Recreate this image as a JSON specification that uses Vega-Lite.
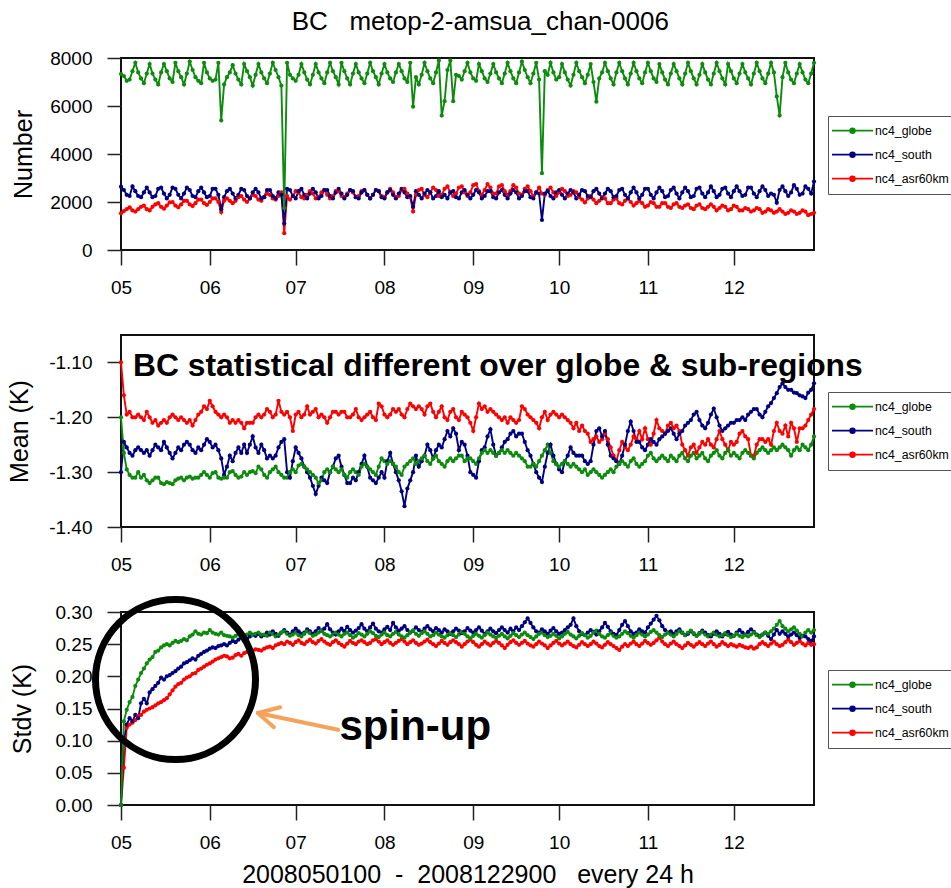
{
"$schema":"https://vega.github.io/schema/vega-lite/v6.json",
"background":"white",
"autosize":{"type":"pad"},
"padding":{"left":6,"top":8,"right":0,"bottom":0},
"bounds":"flush",
"spacing":85,
"title":{"text":"BC\u00a0\u00a0\u00a0metop-2-amsua_chan-0006","fontSize":26,"fontWeight":"normal","color":"#000000","anchor":"middle","offset":13.5},
"resolve":{"scale":{"color":"independent"},"legend":{"color":"independent"}},
"config":{
"font":"Liberation Sans",
"view":{"stroke":"#111111","strokeWidth":2},
"axis":{"domain":false,"grid":false,"ticks":true,"tickColor":"#222222","tickWidth":1.5,"tickSize":14,"labelFontSize":19,"labelColor":"#000000","labelFlush":false,"labelOverlap":false,"titleFontSize":25,"titleFontWeight":"normal","titleColor":"#000000"},
"axisX":{"tickSize":15,"labelPadding":13,"titlePadding":10},
"axisY":{"labelPadding":15},
"legend":{"strokeColor":"#555555","fillColor":"#ffffff","padding":3,"labelFontSize":12.3,"labelColor":"#000000","labelOffset":1,"symbolType":"M-1,0H1M-0.12,0A0.12,0.12,0,1,1,0.12,0A0.12,0.12,0,1,1,-0.12,0Z","symbolSize":1681,"symbolStrokeWidth":1.6,"clipHeight":23.3,"rowPadding":0}
},
"datasets":{
"num":[
{"t":0,"g":7330,"s":2640,"a":1530},{"t":1,"g":7250,"s":2500,"a":1620},{"t":2,"g":7050,"s":2300,"a":1700},{"t":3,"g":7100,"s":2250,"a":1780},{"t":4,"g":7450,"s":2650,"a":1650},
{"t":5,"g":7800,"s":2450,"a":1600},{"t":6,"g":7400,"s":2250,"a":1700},{"t":7,"g":7150,"s":2200,"a":1800},{"t":8,"g":6950,"s":2400,"a":1850},{"t":9,"g":7350,"s":2600,"a":1700},
{"t":10,"g":7750,"s":2400,"a":1650},{"t":11,"g":7350,"s":2200,"a":1800},{"t":12,"g":7100,"s":2250,"a":1900},{"t":13,"g":6900,"s":2550,"a":1950},{"t":14,"g":7400,"s":2600,"a":1800},
{"t":15,"g":7750,"s":2350,"a":1720},{"t":16,"g":7450,"s":2150,"a":1850},{"t":17,"g":7150,"s":2300,"a":1980},{"t":18,"g":7000,"s":2600,"a":2000},{"t":19,"g":7800,"s":2550,"a":1850},
{"t":20,"g":7450,"s":2300,"a":1780},{"t":21,"g":7200,"s":2150,"a":1900},{"t":22,"g":6900,"s":2350,"a":2050},{"t":23,"g":7350,"s":2600,"a":2050},{"t":24,"g":7850,"s":2500,"a":1900},
{"t":25,"g":7500,"s":2250,"a":1830},{"t":26,"g":7200,"s":2200,"a":1950},{"t":27,"g":7050,"s":2450,"a":2100},{"t":28,"g":6950,"s":2600,"a":2100},{"t":29,"g":7800,"s":2400,"a":1950},
{"t":30,"g":7400,"s":2200,"a":1880},{"t":31,"g":7150,"s":2250,"a":2000},{"t":32,"g":7050,"s":2550,"a":2150},{"t":33,"g":7100,"s":2550,"a":2150},{"t":34,"g":7800,"s":2300,"a":2000},
{"t":35,"g":5400,"s":1700,"a":1580},{"t":36,"g":6900,"s":2200,"a":2050},{"t":37,"g":7200,"s":2450,"a":2150},{"t":38,"g":7400,"s":2550,"a":2050},{"t":39,"g":7700,"s":2350,"a":1950},
{"t":40,"g":7350,"s":2150,"a":2050},{"t":41,"g":7100,"s":2300,"a":2200},{"t":42,"g":6900,"s":2550,"a":2250},{"t":43,"g":7750,"s":2500,"a":2100},{"t":44,"g":7450,"s":2250,"a":2000},
{"t":45,"g":7200,"s":2150,"a":2150},{"t":46,"g":6850,"s":2400,"a":2300},{"t":47,"g":7300,"s":2550,"a":2250},{"t":48,"g":7750,"s":2400,"a":2100},{"t":49,"g":7400,"s":2150,"a":2050},
{"t":50,"g":7150,"s":2200,"a":2200},{"t":51,"g":6950,"s":2500,"a":2350},{"t":52,"g":7350,"s":2500,"a":2300},{"t":53,"g":7800,"s":2250,"a":2150},{"t":54,"g":7500,"s":2150,"a":2100},
{"t":55,"g":7200,"s":2400,"a":2250},{"t":56,"g":6850,"s":2300,"a":2400},{"t":57,"g":1750,"s":1100,"a":700},{"t":58,"g":7800,"s":2550,"a":2250},{"t":59,"g":7300,"s":2500,"a":2100},
{"t":60,"g":7150,"s":2250,"a":2250},{"t":61,"g":7050,"s":2150,"a":2450},{"t":62,"g":7300,"s":2450,"a":2400},{"t":63,"g":7750,"s":2550,"a":2200},{"t":64,"g":7400,"s":2300,"a":2150},
{"t":65,"g":7100,"s":2150,"a":2300},{"t":66,"g":6900,"s":2350,"a":2450},{"t":67,"g":7300,"s":2550,"a":2350},{"t":68,"g":7750,"s":2400,"a":2150},{"t":69,"g":7400,"s":2150,"a":2200},
{"t":70,"g":7150,"s":2250,"a":2400},{"t":71,"g":6950,"s":2500,"a":2500},{"t":72,"g":7400,"s":2500,"a":2300},{"t":73,"g":7800,"s":2250,"a":2150},{"t":74,"g":7450,"s":2150,"a":2250},
{"t":75,"g":7200,"s":2400,"a":2450},{"t":76,"g":6900,"s":2550,"a":2450},{"t":77,"g":7800,"s":2350,"a":2250},{"t":78,"g":7450,"s":2150,"a":2200},{"t":79,"g":7150,"s":2300,"a":2350},
{"t":80,"g":6900,"s":2500,"a":2500},{"t":81,"g":7350,"s":2450,"a":2400},{"t":82,"g":7750,"s":2200,"a":2200},{"t":83,"g":7400,"s":2150,"a":2250},{"t":84,"g":7150,"s":2400,"a":2450},
{"t":85,"g":6950,"s":2500,"a":2500},{"t":86,"g":7350,"s":2300,"a":2300},{"t":87,"g":7800,"s":2150,"a":2150},{"t":88,"g":7450,"s":2300,"a":2300},{"t":89,"g":7200,"s":2500,"a":2500},
{"t":90,"g":6900,"s":2450,"a":2450},{"t":91,"g":7350,"s":2200,"a":2250},{"t":92,"g":7750,"s":2150,"a":2200},{"t":93,"g":7400,"s":2400,"a":2400},{"t":94,"g":7150,"s":2500,"a":2550},
{"t":95,"g":7000,"s":2300,"a":2400},{"t":96,"g":7400,"s":2150,"a":2200},{"t":97,"g":7750,"s":2350,"a":2250},{"t":98,"g":7450,"s":2550,"a":2500},{"t":99,"g":7150,"s":2400,"a":2550},
{"t":100,"g":7000,"s":2200,"a":2350},{"t":101,"g":7800,"s":2250,"a":2200},{"t":102,"g":5970,"s":1800,"a":1600},{"t":103,"g":7200,"s":2450,"a":2300},{"t":104,"g":6900,"s":2300,"a":2500},
{"t":105,"g":7300,"s":2150,"a":2550},{"t":106,"g":7800,"s":2350,"a":2300},{"t":107,"g":7450,"s":2500,"a":2200},{"t":108,"g":7150,"s":2400,"a":2400},{"t":109,"g":6950,"s":2150,"a":2600},
{"t":110,"g":7400,"s":2250,"a":2500},{"t":111,"g":7900,"s":2450,"a":2250},{"t":112,"g":5600,"s":2200,"a":2300},{"t":113,"g":6200,"s":2300,"a":2550},{"t":114,"g":7500,"s":2150,"a":2650},
{"t":115,"g":7900,"s":2400,"a":2400},{"t":116,"g":6200,"s":2450,"a":2250},{"t":117,"g":7300,"s":2200,"a":2350},{"t":118,"g":7250,"s":2150,"a":2600},{"t":119,"g":7100,"s":2400,"a":2650},
{"t":120,"g":7450,"s":2500,"a":2400},{"t":121,"g":7800,"s":2300,"a":2250},{"t":122,"g":7400,"s":2150,"a":2400},{"t":123,"g":7150,"s":2300,"a":2700},{"t":124,"g":7050,"s":2500,"a":2750},
{"t":125,"g":7750,"s":2400,"a":2450},{"t":126,"g":7450,"s":2150,"a":2300},{"t":127,"g":7150,"s":2250,"a":2500},{"t":128,"g":7000,"s":2450,"a":2750},{"t":129,"g":7350,"s":2450,"a":2600},
{"t":130,"g":7750,"s":2200,"a":2350},{"t":131,"g":7400,"s":2150,"a":2350},{"t":132,"g":7150,"s":2400,"a":2650},{"t":133,"g":6950,"s":2500,"a":2700},{"t":134,"g":7350,"s":2300,"a":2450},
{"t":135,"g":7800,"s":2150,"a":2300},{"t":136,"g":7450,"s":2350,"a":2450},{"t":137,"g":7150,"s":2500,"a":2700},{"t":138,"g":6950,"s":2400,"a":2600},{"t":139,"g":7400,"s":2150,"a":2350},
{"t":140,"g":7850,"s":2250,"a":2300},{"t":141,"g":7500,"s":2450,"a":2550},{"t":142,"g":7200,"s":2450,"a":2650},{"t":143,"g":6950,"s":2200,"a":2450},{"t":144,"g":7350,"s":2150,"a":2250},
{"t":145,"g":7800,"s":2400,"a":2400},{"t":146,"g":7100,"s":2350,"a":2600},{"t":147,"g":3200,"s":1250,"a":2350},{"t":148,"g":7450,"s":2350,"a":2300},{"t":149,"g":7300,"s":2450,"a":2500},
{"t":150,"g":7800,"s":2250,"a":2600},{"t":151,"g":7400,"s":2150,"a":2400},{"t":152,"g":7100,"s":2400,"a":2250},{"t":153,"g":7200,"s":2500,"a":2400},{"t":154,"g":7750,"s":2300,"a":2550},
{"t":155,"g":7400,"s":2150,"a":2450},{"t":156,"g":7100,"s":2350,"a":2250},{"t":157,"g":6850,"s":2500,"a":2300},{"t":158,"g":7300,"s":2400,"a":2450},{"t":159,"g":7800,"s":2150,"a":2400},
{"t":160,"g":7450,"s":2300,"a":2200},{"t":161,"g":7200,"s":2500,"a":2100},{"t":162,"g":6950,"s":2450,"a":1980},{"t":163,"g":7300,"s":2250,"a":2150},{"t":164,"g":7750,"s":2200,"a":2250},
{"t":165,"g":7000,"s":2450,"a":2100},{"t":166,"g":6180,"s":2550,"a":1950},{"t":167,"g":7150,"s":2350,"a":2050},{"t":168,"g":7400,"s":2150,"a":2200},{"t":169,"g":7800,"s":2350,"a":2150},
{"t":170,"g":7450,"s":2550,"a":1950},{"t":171,"g":7150,"s":2450,"a":1950},{"t":172,"g":6900,"s":2200,"a":2100},{"t":173,"g":7400,"s":2250,"a":2150},{"t":174,"g":7800,"s":2500,"a":1950},
{"t":175,"g":7450,"s":2550,"a":1900},{"t":176,"g":7150,"s":2300,"a":2050},{"t":177,"g":6900,"s":2150,"a":2150},{"t":178,"g":7350,"s":2400,"a":2000},{"t":179,"g":7800,"s":2600,"a":1850},
{"t":180,"g":7450,"s":2400,"a":1950},{"t":181,"g":7150,"s":2150,"a":2050},{"t":182,"g":6950,"s":2300,"a":1950},{"t":183,"g":7400,"s":2550,"a":1800},{"t":184,"g":7800,"s":2550,"a":1850},
{"t":185,"g":7450,"s":2300,"a":2000},{"t":186,"g":7150,"s":2150,"a":1950},{"t":187,"g":7000,"s":2400,"a":1800},{"t":188,"g":7750,"s":2600,"a":1800},{"t":189,"g":7400,"s":2450,"a":1950},
{"t":190,"g":7100,"s":2200,"a":1950},{"t":191,"g":6900,"s":2250,"a":1800},{"t":192,"g":7350,"s":2500,"a":1750},{"t":193,"g":7750,"s":2600,"a":1900},{"t":194,"g":7450,"s":2350,"a":1950},
{"t":195,"g":7150,"s":2150,"a":1800},{"t":196,"g":6900,"s":2400,"a":1750},{"t":197,"g":7350,"s":2600,"a":1850},{"t":198,"g":7800,"s":2450,"a":1900},{"t":199,"g":7450,"s":2200,"a":1750},
{"t":200,"g":7150,"s":2250,"a":1700},{"t":201,"g":6900,"s":2550,"a":1850},{"t":202,"g":7300,"s":2600,"a":1900},{"t":203,"g":7750,"s":2350,"a":1750},{"t":204,"g":7400,"s":2200,"a":1700},
{"t":205,"g":7100,"s":2400,"a":1800},{"t":206,"g":6900,"s":2650,"a":1900},{"t":207,"g":7350,"s":2450,"a":1800},{"t":208,"g":7800,"s":2200,"a":1650},{"t":209,"g":7450,"s":2300,"a":1750},
{"t":210,"g":7150,"s":2550,"a":1850},{"t":211,"g":6900,"s":2600,"a":1800},{"t":212,"g":7750,"s":2350,"a":1650},{"t":213,"g":7450,"s":2200,"a":1700},{"t":214,"g":7150,"s":2450,"a":1850},
{"t":215,"g":6950,"s":2650,"a":1800},{"t":216,"g":7350,"s":2450,"a":1650},{"t":217,"g":7750,"s":2250,"a":1650},{"t":218,"g":7400,"s":2300,"a":1750},{"t":219,"g":7150,"s":2600,"a":1700},
{"t":220,"g":6900,"s":2600,"a":1600},{"t":221,"g":7350,"s":2350,"a":1650},{"t":222,"g":7800,"s":2200,"a":1750},{"t":223,"g":7450,"s":2450,"a":1700},{"t":224,"g":7150,"s":2650,"a":1550},
{"t":225,"g":6950,"s":2500,"a":1600},{"t":226,"g":7350,"s":2250,"a":1700},{"t":227,"g":7800,"s":2350,"a":1650},{"t":228,"g":7400,"s":2300,"a":1550},{"t":229,"g":6400,"s":1970,"a":1600},
{"t":230,"g":5600,"s":2500,"a":1700},{"t":231,"g":7200,"s":2650,"a":1600},{"t":232,"g":7800,"s":2450,"a":1500},{"t":233,"g":7400,"s":2250,"a":1550},{"t":234,"g":7100,"s":2400,"a":1650},
{"t":235,"g":6950,"s":2700,"a":1600},{"t":236,"g":7350,"s":2550,"a":1500},{"t":237,"g":7750,"s":2300,"a":1550},{"t":238,"g":7400,"s":2350,"a":1650},{"t":239,"g":7100,"s":2650,"a":1600},
{"t":240,"g":6950,"s":2550,"a":1450},{"t":241,"g":7350,"s":2350,"a":1500},{"t":242,"g":7800,"s":2850,"a":1550}
],
"mean":[
{"t":0,"g":-1.2,"s":-1.3,"a":-1.1},{"t":1,"g":-1.265,"s":-1.245,"a":-1.16},{"t":2,"g":-1.295,"s":-1.255,"a":-1.195},{"t":3,"g":-1.305,"s":-1.265,"a":-1.19},{"t":4,"g":-1.31,"s":-1.27,"a":-1.2},
{"t":5,"g":-1.31,"s":-1.26,"a":-1.2},{"t":6,"g":-1.3,"s":-1.255,"a":-1.195},{"t":7,"g":-1.31,"s":-1.26,"a":-1.2},{"t":8,"g":-1.305,"s":-1.265,"a":-1.205},{"t":9,"g":-1.315,"s":-1.26,"a":-1.19},
{"t":10,"g":-1.32,"s":-1.27,"a":-1.2},{"t":11,"g":-1.315,"s":-1.26,"a":-1.21},{"t":12,"g":-1.31,"s":-1.25,"a":-1.205},{"t":13,"g":-1.31,"s":-1.255,"a":-1.215},{"t":14,"g":-1.32,"s":-1.26,"a":-1.21},
{"t":15,"g":-1.322,"s":-1.245,"a":-1.205},{"t":16,"g":-1.318,"s":-1.255,"a":-1.21},{"t":17,"g":-1.32,"s":-1.265,"a":-1.2},{"t":18,"g":-1.322,"s":-1.275,"a":-1.195},{"t":19,"g":-1.315,"s":-1.265,"a":-1.2},
{"t":20,"g":-1.312,"s":-1.255,"a":-1.205},{"t":21,"g":-1.31,"s":-1.26,"a":-1.2},{"t":22,"g":-1.315,"s":-1.25,"a":-1.205},{"t":23,"g":-1.31,"s":-1.245,"a":-1.21},{"t":24,"g":-1.308,"s":-1.25,"a":-1.205},
{"t":25,"g":-1.312,"s":-1.26,"a":-1.215},{"t":26,"g":-1.31,"s":-1.265,"a":-1.205},{"t":27,"g":-1.31,"s":-1.255,"a":-1.195},{"t":28,"g":-1.305,"s":-1.26,"a":-1.19},{"t":29,"g":-1.3,"s":-1.25,"a":-1.18},
{"t":30,"g":-1.305,"s":-1.24,"a":-1.185},{"t":31,"g":-1.31,"s":-1.245,"a":-1.17},{"t":32,"g":-1.302,"s":-1.255,"a":-1.18},{"t":33,"g":-1.3,"s":-1.25,"a":-1.19},{"t":34,"g":-1.31,"s":-1.26,"a":-1.195},
{"t":35,"g":-1.312,"s":-1.275,"a":-1.2},{"t":36,"g":-1.31,"s":-1.305,"a":-1.195},{"t":37,"g":-1.31,"s":-1.29,"a":-1.2},{"t":38,"g":-1.3,"s":-1.27,"a":-1.21},{"t":39,"g":-1.298,"s":-1.28,"a":-1.205},
{"t":40,"g":-1.305,"s":-1.265,"a":-1.21},{"t":41,"g":-1.31,"s":-1.255,"a":-1.205},{"t":42,"g":-1.308,"s":-1.265,"a":-1.21},{"t":43,"g":-1.3,"s":-1.25,"a":-1.22},{"t":44,"g":-1.305,"s":-1.265,"a":-1.21},
{"t":45,"g":-1.3,"s":-1.25,"a":-1.21},{"t":46,"g":-1.298,"s":-1.235,"a":-1.21},{"t":47,"g":-1.302,"s":-1.255,"a":-1.2},{"t":48,"g":-1.29,"s":-1.265,"a":-1.195},{"t":49,"g":-1.295,"s":-1.25,"a":-1.2},
{"t":50,"g":-1.305,"s":-1.26,"a":-1.195},{"t":51,"g":-1.31,"s":-1.275,"a":-1.185},{"t":52,"g":-1.3,"s":-1.27,"a":-1.19},{"t":53,"g":-1.295,"s":-1.275,"a":-1.2},{"t":54,"g":-1.29,"s":-1.27,"a":-1.195},
{"t":55,"g":-1.3,"s":-1.255,"a":-1.17},{"t":56,"g":-1.305,"s":-1.245,"a":-1.19},{"t":57,"g":-1.31,"s":-1.24,"a":-1.195},{"t":58,"g":-1.31,"s":-1.3,"a":-1.19},{"t":59,"g":-1.3,"s":-1.31,"a":-1.2},
{"t":60,"g":-1.295,"s":-1.28,"a":-1.225},{"t":61,"g":-1.3,"s":-1.255,"a":-1.195},{"t":62,"g":-1.288,"s":-1.265,"a":-1.19},{"t":63,"g":-1.285,"s":-1.275,"a":-1.2},{"t":64,"g":-1.29,"s":-1.29,"a":-1.195},
{"t":65,"g":-1.295,"s":-1.3,"a":-1.18},{"t":66,"g":-1.3,"s":-1.31,"a":-1.195},{"t":67,"g":-1.305,"s":-1.325,"a":-1.19},{"t":68,"g":-1.31,"s":-1.34,"a":-1.185},{"t":69,"g":-1.32,"s":-1.325,"a":-1.2},
{"t":70,"g":-1.315,"s":-1.31,"a":-1.195},{"t":71,"g":-1.3,"s":-1.315,"a":-1.2},{"t":72,"g":-1.295,"s":-1.32,"a":-1.21},{"t":73,"g":-1.3,"s":-1.3,"a":-1.2},{"t":74,"g":-1.29,"s":-1.29,"a":-1.19},
{"t":75,"g":-1.295,"s":-1.275,"a":-1.19},{"t":76,"g":-1.3,"s":-1.27,"a":-1.195},{"t":77,"g":-1.295,"s":-1.29,"a":-1.19},{"t":78,"g":-1.305,"s":-1.305,"a":-1.19},{"t":79,"g":-1.31,"s":-1.32,"a":-1.2},
{"t":80,"g":-1.3,"s":-1.32,"a":-1.2},{"t":81,"g":-1.295,"s":-1.31,"a":-1.195},{"t":82,"g":-1.3,"s":-1.315,"a":-1.185},{"t":83,"g":-1.305,"s":-1.3,"a":-1.2},{"t":84,"g":-1.29,"s":-1.285,"a":-1.205},
{"t":85,"g":-1.285,"s":-1.27,"a":-1.2},{"t":86,"g":-1.29,"s":-1.29,"a":-1.195},{"t":87,"g":-1.295,"s":-1.31,"a":-1.19},{"t":88,"g":-1.3,"s":-1.315,"a":-1.2},{"t":89,"g":-1.305,"s":-1.32,"a":-1.205},
{"t":90,"g":-1.29,"s":-1.31,"a":-1.175},{"t":91,"g":-1.275,"s":-1.3,"a":-1.18},{"t":92,"g":-1.28,"s":-1.31,"a":-1.195},{"t":93,"g":-1.285,"s":-1.28,"a":-1.2},{"t":94,"g":-1.28,"s":-1.265,"a":-1.195},
{"t":95,"g":-1.285,"s":-1.285,"a":-1.185},{"t":96,"g":-1.29,"s":-1.3,"a":-1.19},{"t":97,"g":-1.3,"s":-1.315,"a":-1.185},{"t":98,"g":-1.305,"s":-1.335,"a":-1.195},{"t":99,"g":-1.29,"s":-1.362,"a":-1.2},
{"t":100,"g":-1.285,"s":-1.33,"a":-1.185},{"t":101,"g":-1.28,"s":-1.315,"a":-1.175},{"t":102,"g":-1.275,"s":-1.3,"a":-1.18},{"t":103,"g":-1.285,"s":-1.27,"a":-1.185},{"t":104,"g":-1.28,"s":-1.29,"a":-1.18},
{"t":105,"g":-1.275,"s":-1.28,"a":-1.185},{"t":106,"g":-1.27,"s":-1.27,"a":-1.195},{"t":107,"g":-1.28,"s":-1.25,"a":-1.18},{"t":108,"g":-1.285,"s":-1.26,"a":-1.175},{"t":109,"g":-1.275,"s":-1.275,"a":-1.19},
{"t":110,"g":-1.27,"s":-1.26,"a":-1.2},{"t":111,"g":-1.28,"s":-1.25,"a":-1.19},{"t":112,"g":-1.285,"s":-1.255,"a":-1.18},{"t":113,"g":-1.29,"s":-1.24,"a":-1.2},{"t":114,"g":-1.28,"s":-1.225,"a":-1.205},
{"t":115,"g":-1.275,"s":-1.235,"a":-1.19},{"t":116,"g":-1.28,"s":-1.22,"a":-1.185},{"t":117,"g":-1.275,"s":-1.23,"a":-1.2},{"t":118,"g":-1.27,"s":-1.26,"a":-1.205},{"t":119,"g":-1.27,"s":-1.245,"a":-1.19},
{"t":120,"g":-1.28,"s":-1.25,"a":-1.195},{"t":121,"g":-1.275,"s":-1.27,"a":-1.2},{"t":122,"g":-1.275,"s":-1.3,"a":-1.21},{"t":123,"g":-1.28,"s":-1.305,"a":-1.225},{"t":124,"g":-1.285,"s":-1.31,"a":-1.2},
{"t":125,"g":-1.275,"s":-1.28,"a":-1.175},{"t":126,"g":-1.265,"s":-1.26,"a":-1.185},{"t":127,"g":-1.26,"s":-1.255,"a":-1.18},{"t":128,"g":-1.265,"s":-1.235,"a":-1.19},{"t":129,"g":-1.26,"s":-1.222,"a":-1.185},
{"t":130,"g":-1.265,"s":-1.25,"a":-1.19},{"t":131,"g":-1.27,"s":-1.27,"a":-1.195},{"t":132,"g":-1.265,"s":-1.265,"a":-1.2},{"t":133,"g":-1.26,"s":-1.255,"a":-1.205},{"t":134,"g":-1.265,"s":-1.245,"a":-1.2},
{"t":135,"g":-1.26,"s":-1.24,"a":-1.21},{"t":136,"g":-1.265,"s":-1.23,"a":-1.2},{"t":137,"g":-1.27,"s":-1.225,"a":-1.205},{"t":138,"g":-1.265,"s":-1.235,"a":-1.21},{"t":139,"g":-1.27,"s":-1.23,"a":-1.205},
{"t":140,"g":-1.275,"s":-1.23,"a":-1.18},{"t":141,"g":-1.28,"s":-1.245,"a":-1.185},{"t":142,"g":-1.29,"s":-1.26,"a":-1.195},{"t":143,"g":-1.29,"s":-1.27,"a":-1.2},{"t":144,"g":-1.285,"s":-1.285,"a":-1.205},
{"t":145,"g":-1.29,"s":-1.3,"a":-1.21},{"t":146,"g":-1.28,"s":-1.31,"a":-1.22},{"t":147,"g":-1.27,"s":-1.318,"a":-1.2},{"t":148,"g":-1.26,"s":-1.29,"a":-1.19},{"t":149,"g":-1.25,"s":-1.265,"a":-1.205},
{"t":150,"g":-1.265,"s":-1.25,"a":-1.195},{"t":151,"g":-1.28,"s":-1.27,"a":-1.19},{"t":152,"g":-1.285,"s":-1.285,"a":-1.195},{"t":153,"g":-1.29,"s":-1.295,"a":-1.2},{"t":154,"g":-1.285,"s":-1.3,"a":-1.195},
{"t":155,"g":-1.28,"s":-1.28,"a":-1.2},{"t":156,"g":-1.285,"s":-1.27,"a":-1.205},{"t":157,"g":-1.29,"s":-1.255,"a":-1.21},{"t":158,"g":-1.285,"s":-1.265,"a":-1.22},{"t":159,"g":-1.29,"s":-1.27,"a":-1.21},
{"t":160,"g":-1.295,"s":-1.27,"a":-1.225},{"t":161,"g":-1.3,"s":-1.27,"a":-1.215},{"t":162,"g":-1.295,"s":-1.28,"a":-1.225},{"t":163,"g":-1.305,"s":-1.285,"a":-1.23},{"t":164,"g":-1.3,"s":-1.28,"a":-1.245},
{"t":165,"g":-1.295,"s":-1.25,"a":-1.24},{"t":166,"g":-1.3,"s":-1.225,"a":-1.235},{"t":167,"g":-1.305,"s":-1.22,"a":-1.245},{"t":168,"g":-1.31,"s":-1.235,"a":-1.24},{"t":169,"g":-1.305,"s":-1.225,"a":-1.23},
{"t":170,"g":-1.3,"s":-1.25,"a":-1.24},{"t":171,"g":-1.295,"s":-1.27,"a":-1.255},{"t":172,"g":-1.3,"s":-1.275,"a":-1.27},{"t":173,"g":-1.29,"s":-1.28,"a":-1.28},{"t":174,"g":-1.285,"s":-1.285,"a":-1.26},
{"t":175,"g":-1.28,"s":-1.27,"a":-1.245},{"t":176,"g":-1.285,"s":-1.25,"a":-1.255},{"t":177,"g":-1.29,"s":-1.225,"a":-1.26},{"t":178,"g":-1.28,"s":-1.208,"a":-1.25},{"t":179,"g":-1.275,"s":-1.225,"a":-1.235},
{"t":180,"g":-1.285,"s":-1.245,"a":-1.24},{"t":181,"g":-1.29,"s":-1.245,"a":-1.225},{"t":182,"g":-1.285,"s":-1.255,"a":-1.24},{"t":183,"g":-1.28,"s":-1.26,"a":-1.22},{"t":184,"g":-1.27,"s":-1.25,"a":-1.24},
{"t":185,"g":-1.265,"s":-1.24,"a":-1.25},{"t":186,"g":-1.275,"s":-1.245,"a":-1.23},{"t":187,"g":-1.28,"s":-1.25,"a":-1.205},{"t":188,"g":-1.275,"s":-1.24,"a":-1.22},{"t":189,"g":-1.27,"s":-1.235,"a":-1.225},
{"t":190,"g":-1.275,"s":-1.23,"a":-1.23},{"t":191,"g":-1.28,"s":-1.225,"a":-1.215},{"t":192,"g":-1.27,"s":-1.22,"a":-1.21},{"t":193,"g":-1.275,"s":-1.23,"a":-1.22},{"t":194,"g":-1.28,"s":-1.24,"a":-1.215},
{"t":195,"g":-1.27,"s":-1.23,"a":-1.225},{"t":196,"g":-1.265,"s":-1.225,"a":-1.25},{"t":197,"g":-1.275,"s":-1.215,"a":-1.26},{"t":198,"g":-1.28,"s":-1.21,"a":-1.27},{"t":199,"g":-1.27,"s":-1.205,"a":-1.255},
{"t":200,"g":-1.265,"s":-1.195,"a":-1.25},{"t":201,"g":-1.275,"s":-1.19,"a":-1.265},{"t":202,"g":-1.27,"s":-1.205,"a":-1.255},{"t":203,"g":-1.265,"s":-1.215,"a":-1.245},{"t":204,"g":-1.275,"s":-1.22,"a":-1.25},
{"t":205,"g":-1.28,"s":-1.21,"a":-1.24},{"t":206,"g":-1.27,"s":-1.195,"a":-1.25},{"t":207,"g":-1.265,"s":-1.184,"a":-1.255},{"t":208,"g":-1.26,"s":-1.2,"a":-1.24},{"t":209,"g":-1.27,"s":-1.215,"a":-1.225},
{"t":210,"g":-1.275,"s":-1.225,"a":-1.24},{"t":211,"g":-1.265,"s":-1.22,"a":-1.25},{"t":212,"g":-1.26,"s":-1.215,"a":-1.26},{"t":213,"g":-1.27,"s":-1.21,"a":-1.245},{"t":214,"g":-1.265,"s":-1.21,"a":-1.25},
{"t":215,"g":-1.27,"s":-1.205,"a":-1.245},{"t":216,"g":-1.275,"s":-1.205,"a":-1.23},{"t":217,"g":-1.265,"s":-1.2,"a":-1.225},{"t":218,"g":-1.26,"s":-1.205,"a":-1.235},{"t":219,"g":-1.265,"s":-1.195,"a":-1.24},
{"t":220,"g":-1.27,"s":-1.19,"a":-1.27},{"t":221,"g":-1.275,"s":-1.185,"a":-1.27},{"t":222,"g":-1.265,"s":-1.185,"a":-1.25},{"t":223,"g":-1.26,"s":-1.195,"a":-1.24},{"t":224,"g":-1.255,"s":-1.2,"a":-1.24},
{"t":225,"g":-1.26,"s":-1.19,"a":-1.245},{"t":226,"g":-1.265,"s":-1.18,"a":-1.24},{"t":227,"g":-1.26,"s":-1.174,"a":-1.25},{"t":228,"g":-1.255,"s":-1.165,"a":-1.225},{"t":229,"g":-1.26,"s":-1.156,"a":-1.21},
{"t":230,"g":-1.255,"s":-1.145,"a":-1.225},{"t":231,"g":-1.25,"s":-1.138,"a":-1.23},{"t":232,"g":-1.255,"s":-1.145,"a":-1.215},{"t":233,"g":-1.26,"s":-1.15,"a":-1.235},{"t":234,"g":-1.27,"s":-1.15,"a":-1.21},
{"t":235,"g":-1.26,"s":-1.155,"a":-1.22},{"t":236,"g":-1.255,"s":-1.156,"a":-1.245},{"t":237,"g":-1.26,"s":-1.16,"a":-1.22},{"t":238,"g":-1.25,"s":-1.162,"a":-1.22},{"t":239,"g":-1.255,"s":-1.165,"a":-1.215},
{"t":240,"g":-1.26,"s":-1.155,"a":-1.205},{"t":241,"g":-1.25,"s":-1.15,"a":-1.195},{"t":242,"g":-1.235,"s":-1.138,"a":-1.185}
],
"std":[
{"t":0,"g":0,"s":0,"a":0},{"t":1,"g":0.13,"s":0.1,"a":0.058},{"t":2,"g":0.148,"s":0.125,"a":0.12},{"t":3,"g":0.16,"s":0.135,"a":0.125},{"t":4,"g":0.168,"s":0.13,"a":0.128},
{"t":5,"g":0.185,"s":0.14,"a":0.132},{"t":6,"g":0.195,"s":0.135,"a":0.138},{"t":7,"g":0.205,"s":0.158,"a":0.14},{"t":8,"g":0.212,"s":0.165,"a":0.145},{"t":9,"g":0.22,"s":0.158,"a":0.148},
{"t":10,"g":0.226,"s":0.175,"a":0.15},{"t":11,"g":0.23,"s":0.18,"a":0.152},{"t":12,"g":0.238,"s":0.185,"a":0.155},{"t":13,"g":0.24,"s":0.19,"a":0.158},{"t":14,"g":0.245,"s":0.198,"a":0.16},
{"t":15,"g":0.248,"s":0.195,"a":0.163},{"t":16,"g":0.25,"s":0.2,"a":0.166},{"t":17,"g":0.248,"s":0.202,"a":0.172},{"t":18,"g":0.252,"s":0.205,"a":0.178},{"t":19,"g":0.255,"s":0.208,"a":0.184},
{"t":20,"g":0.253,"s":0.212,"a":0.188},{"t":21,"g":0.255,"s":0.215,"a":0.19},{"t":22,"g":0.258,"s":0.22,"a":0.195},{"t":23,"g":0.256,"s":0.222,"a":0.198},{"t":24,"g":0.262,"s":0.225,"a":0.2},
{"t":25,"g":0.265,"s":0.228,"a":0.204},{"t":26,"g":0.27,"s":0.226,"a":0.205},{"t":27,"g":0.266,"s":0.232,"a":0.21},{"t":28,"g":0.265,"s":0.235,"a":0.212},{"t":29,"g":0.268,"s":0.238,"a":0.215},
{"t":30,"g":0.267,"s":0.24,"a":0.218},{"t":31,"g":0.272,"s":0.243,"a":0.22},{"t":32,"g":0.268,"s":0.245,"a":0.223},{"t":33,"g":0.266,"s":0.244,"a":0.226},{"t":34,"g":0.265,"s":0.247,"a":0.228},
{"t":35,"g":0.268,"s":0.248,"a":0.23},{"t":36,"g":0.264,"s":0.25,"a":0.232},{"t":37,"g":0.263,"s":0.248,"a":0.231},{"t":38,"g":0.262,"s":0.252,"a":0.228},{"t":39,"g":0.26,"s":0.255,"a":0.229},
{"t":40,"g":0.263,"s":0.253,"a":0.233},{"t":41,"g":0.265,"s":0.257,"a":0.235},{"t":42,"g":0.262,"s":0.26,"a":0.232},{"t":43,"g":0.26,"s":0.262,"a":0.236},{"t":44,"g":0.265,"s":0.258,"a":0.238},
{"t":45,"g":0.268,"s":0.262,"a":0.236},{"t":46,"g":0.264,"s":0.265,"a":0.24},{"t":47,"g":0.266,"s":0.263,"a":0.242},{"t":48,"g":0.268,"s":0.266,"a":0.241},{"t":49,"g":0.265,"s":0.262,"a":0.24},
{"t":50,"g":0.265,"s":0.264,"a":0.243},{"t":51,"g":0.263,"s":0.268,"a":0.245},{"t":52,"g":0.268,"s":0.265,"a":0.246},{"t":53,"g":0.266,"s":0.27,"a":0.244},{"t":54,"g":0.262,"s":0.266,"a":0.248},
{"t":55,"g":0.265,"s":0.263,"a":0.25},{"t":56,"g":0.268,"s":0.268,"a":0.252},{"t":57,"g":0.27,"s":0.272,"a":0.25},{"t":58,"g":0.266,"s":0.268,"a":0.254},{"t":59,"g":0.263,"s":0.265,"a":0.252},
{"t":60,"g":0.265,"s":0.27,"a":0.249},{"t":61,"g":0.268,"s":0.274,"a":0.253},{"t":62,"g":0.264,"s":0.27,"a":0.256},{"t":63,"g":0.262,"s":0.266,"a":0.252},{"t":64,"g":0.266,"s":0.268,"a":0.25},
{"t":65,"g":0.27,"s":0.273,"a":0.254},{"t":66,"g":0.267,"s":0.27,"a":0.257},{"t":67,"g":0.263,"s":0.266,"a":0.253},{"t":68,"g":0.265,"s":0.27,"a":0.251},{"t":69,"g":0.268,"s":0.275,"a":0.255},
{"t":70,"g":0.272,"s":0.271,"a":0.258},{"t":71,"g":0.266,"s":0.274,"a":0.254},{"t":72,"g":0.264,"s":0.281,"a":0.251},{"t":73,"g":0.262,"s":0.273,"a":0.249},{"t":74,"g":0.265,"s":0.268,"a":0.253},
{"t":75,"g":0.268,"s":0.265,"a":0.256},{"t":76,"g":0.265,"s":0.27,"a":0.252},{"t":77,"g":0.262,"s":0.274,"a":0.249},{"t":78,"g":0.266,"s":0.27,"a":0.246},{"t":79,"g":0.268,"s":0.277,"a":0.251},
{"t":80,"g":0.264,"s":0.272,"a":0.255},{"t":81,"g":0.26,"s":0.268,"a":0.252},{"t":82,"g":0.263,"s":0.271,"a":0.25},{"t":83,"g":0.267,"s":0.275,"a":0.254},{"t":84,"g":0.265,"s":0.281,"a":0.256},
{"t":85,"g":0.262,"s":0.274,"a":0.253},{"t":86,"g":0.266,"s":0.27,"a":0.25},{"t":87,"g":0.27,"s":0.276,"a":0.252},{"t":88,"g":0.267,"s":0.282,"a":0.256},{"t":89,"g":0.263,"s":0.274,"a":0.258},
{"t":90,"g":0.261,"s":0.27,"a":0.254},{"t":91,"g":0.265,"s":0.268,"a":0.25},{"t":92,"g":0.268,"s":0.273,"a":0.253},{"t":93,"g":0.264,"s":0.277,"a":0.256},{"t":94,"g":0.262,"s":0.272,"a":0.252},
{"t":95,"g":0.266,"s":0.283,"a":0.249},{"t":96,"g":0.269,"s":0.276,"a":0.252},{"t":97,"g":0.265,"s":0.271,"a":0.255},{"t":98,"g":0.262,"s":0.274,"a":0.258},{"t":99,"g":0.26,"s":0.278,"a":0.254},
{"t":100,"g":0.264,"s":0.272,"a":0.25},{"t":101,"g":0.268,"s":0.268,"a":0.253},{"t":102,"g":0.271,"s":0.271,"a":0.256},{"t":103,"g":0.266,"s":0.276,"a":0.252},{"t":104,"g":0.263,"s":0.272,"a":0.249},
{"t":105,"g":0.267,"s":0.269,"a":0.251},{"t":106,"g":0.27,"s":0.274,"a":0.254},{"t":107,"g":0.266,"s":0.278,"a":0.257},{"t":108,"g":0.262,"s":0.273,"a":0.253},{"t":109,"g":0.264,"s":0.27,"a":0.25},
{"t":110,"g":0.268,"s":0.275,"a":0.247},{"t":111,"g":0.265,"s":0.272,"a":0.251},{"t":112,"g":0.262,"s":0.268,"a":0.255},{"t":113,"g":0.26,"s":0.273,"a":0.252},{"t":114,"g":0.264,"s":0.27,"a":0.249},
{"t":115,"g":0.267,"s":0.266,"a":0.253},{"t":116,"g":0.264,"s":0.27,"a":0.256},{"t":117,"g":0.261,"s":0.274,"a":0.253},{"t":118,"g":0.265,"s":0.271,"a":0.25},{"t":119,"g":0.269,"s":0.267,"a":0.246},
{"t":120,"g":0.266,"s":0.27,"a":0.25},{"t":121,"g":0.262,"s":0.275,"a":0.254},{"t":122,"g":0.259,"s":0.271,"a":0.257},{"t":123,"g":0.263,"s":0.268,"a":0.253},{"t":124,"g":0.266,"s":0.272,"a":0.249},
{"t":125,"g":0.263,"s":0.276,"a":0.246},{"t":126,"g":0.26,"s":0.271,"a":0.25},{"t":127,"g":0.264,"s":0.266,"a":0.254},{"t":128,"g":0.268,"s":0.27,"a":0.251},{"t":129,"g":0.265,"s":0.274,"a":0.248},
{"t":130,"g":0.262,"s":0.27,"a":0.252},{"t":131,"g":0.26,"s":0.267,"a":0.255},{"t":132,"g":0.263,"s":0.272,"a":0.252},{"t":133,"g":0.266,"s":0.276,"a":0.248},{"t":134,"g":0.262,"s":0.272,"a":0.244},
{"t":135,"g":0.259,"s":0.268,"a":0.249},{"t":136,"g":0.263,"s":0.274,"a":0.253},{"t":137,"g":0.267,"s":0.27,"a":0.256},{"t":138,"g":0.264,"s":0.276,"a":0.252},{"t":139,"g":0.261,"s":0.272,"a":0.249},
{"t":140,"g":0.265,"s":0.278,"a":0.252},{"t":141,"g":0.268,"s":0.284,"a":0.255},{"t":142,"g":0.264,"s":0.29,"a":0.251},{"t":143,"g":0.261,"s":0.283,"a":0.248},{"t":144,"g":0.258,"s":0.276,"a":0.246},
{"t":145,"g":0.262,"s":0.27,"a":0.25},{"t":146,"g":0.266,"s":0.268,"a":0.254},{"t":147,"g":0.268,"s":0.273,"a":0.251},{"t":148,"g":0.264,"s":0.27,"a":0.248},{"t":149,"g":0.261,"s":0.266,"a":0.244},
{"t":150,"g":0.263,"s":0.271,"a":0.248},{"t":151,"g":0.266,"s":0.275,"a":0.252},{"t":152,"g":0.263,"s":0.27,"a":0.255},{"t":153,"g":0.259,"s":0.266,"a":0.251},{"t":154,"g":0.262,"s":0.268,"a":0.248},
{"t":155,"g":0.266,"s":0.272,"a":0.251},{"t":156,"g":0.269,"s":0.276,"a":0.254},{"t":157,"g":0.265,"s":0.28,"a":0.25},{"t":158,"g":0.262,"s":0.29,"a":0.247},{"t":159,"g":0.259,"s":0.278,"a":0.245},
{"t":160,"g":0.263,"s":0.27,"a":0.249},{"t":161,"g":0.267,"s":0.266,"a":0.253},{"t":162,"g":0.264,"s":0.264,"a":0.25},{"t":163,"g":0.26,"s":0.268,"a":0.247},{"t":164,"g":0.263,"s":0.272,"a":0.25},
{"t":165,"g":0.268,"s":0.269,"a":0.254},{"t":166,"g":0.271,"s":0.265,"a":0.251},{"t":167,"g":0.266,"s":0.27,"a":0.247},{"t":168,"g":0.262,"s":0.276,"a":0.245},{"t":169,"g":0.26,"s":0.283,"a":0.249},
{"t":170,"g":0.264,"s":0.277,"a":0.253},{"t":171,"g":0.267,"s":0.27,"a":0.25},{"t":172,"g":0.263,"s":0.266,"a":0.247},{"t":173,"g":0.26,"s":0.264,"a":0.244},{"t":174,"g":0.262,"s":0.272,"a":0.241},
{"t":175,"g":0.266,"s":0.28,"a":0.246},{"t":176,"g":0.27,"s":0.286,"a":0.25},{"t":177,"g":0.267,"s":0.278,"a":0.247},{"t":178,"g":0.263,"s":0.27,"a":0.251},{"t":179,"g":0.26,"s":0.266,"a":0.254},
{"t":180,"g":0.264,"s":0.268,"a":0.25},{"t":181,"g":0.268,"s":0.273,"a":0.247},{"t":182,"g":0.265,"s":0.27,"a":0.251},{"t":183,"g":0.262,"s":0.268,"a":0.255},{"t":184,"g":0.265,"s":0.276,"a":0.252},
{"t":185,"g":0.269,"s":0.282,"a":0.249},{"t":186,"g":0.272,"s":0.288,"a":0.252},{"t":187,"g":0.268,"s":0.294,"a":0.256},{"t":188,"g":0.264,"s":0.287,"a":0.26},{"t":189,"g":0.261,"s":0.278,"a":0.254},
{"t":190,"g":0.265,"s":0.272,"a":0.25},{"t":191,"g":0.268,"s":0.268,"a":0.247},{"t":192,"g":0.265,"s":0.27,"a":0.251},{"t":193,"g":0.262,"s":0.266,"a":0.254},{"t":194,"g":0.266,"s":0.27,"a":0.25},
{"t":195,"g":0.27,"s":0.273,"a":0.247},{"t":196,"g":0.267,"s":0.268,"a":0.244},{"t":197,"g":0.264,"s":0.264,"a":0.248},{"t":198,"g":0.268,"s":0.266,"a":0.252},{"t":199,"g":0.271,"s":0.27,"a":0.249},
{"t":200,"g":0.267,"s":0.266,"a":0.246},{"t":201,"g":0.263,"s":0.263,"a":0.25},{"t":202,"g":0.266,"s":0.267,"a":0.253},{"t":203,"g":0.269,"s":0.271,"a":0.25},{"t":204,"g":0.265,"s":0.268,"a":0.247},
{"t":205,"g":0.262,"s":0.264,"a":0.251},{"t":206,"g":0.265,"s":0.262,"a":0.254},{"t":207,"g":0.268,"s":0.266,"a":0.25},{"t":208,"g":0.265,"s":0.27,"a":0.246},{"t":209,"g":0.262,"s":0.266,"a":0.249},
{"t":210,"g":0.264,"s":0.262,"a":0.253},{"t":211,"g":0.267,"s":0.266,"a":0.25},{"t":212,"g":0.264,"s":0.269,"a":0.247},{"t":213,"g":0.261,"s":0.265,"a":0.25},{"t":214,"g":0.263,"s":0.263,"a":0.248},
{"t":215,"g":0.266,"s":0.268,"a":0.246},{"t":216,"g":0.263,"s":0.272,"a":0.249},{"t":217,"g":0.261,"s":0.268,"a":0.247},{"t":218,"g":0.264,"s":0.265,"a":0.245},{"t":219,"g":0.262,"s":0.269,"a":0.244},
{"t":220,"g":0.265,"s":0.273,"a":0.246},{"t":221,"g":0.268,"s":0.269,"a":0.243},{"t":222,"g":0.264,"s":0.265,"a":0.245},{"t":223,"g":0.261,"s":0.262,"a":0.25},{"t":224,"g":0.265,"s":0.265,"a":0.253},
{"t":225,"g":0.268,"s":0.268,"a":0.25},{"t":226,"g":0.266,"s":0.263,"a":0.247},{"t":227,"g":0.27,"s":0.258,"a":0.251},{"t":228,"g":0.274,"s":0.265,"a":0.254},{"t":229,"g":0.28,"s":0.272,"a":0.25},
{"t":230,"g":0.286,"s":0.266,"a":0.247},{"t":231,"g":0.278,"s":0.27,"a":0.249},{"t":232,"g":0.274,"s":0.266,"a":0.253},{"t":233,"g":0.27,"s":0.262,"a":0.257},{"t":234,"g":0.273,"s":0.265,"a":0.253},
{"t":235,"g":0.276,"s":0.268,"a":0.249},{"t":236,"g":0.271,"s":0.264,"a":0.252},{"t":237,"g":0.266,"s":0.26,"a":0.255},{"t":238,"g":0.262,"s":0.263,"a":0.251},{"t":239,"g":0.268,"s":0.262,"a":0.248},
{"t":240,"g":0.272,"s":0.258,"a":0.252},{"t":241,"g":0.268,"s":0.255,"a":0.249},{"t":242,"g":0.272,"s":0.262,"a":0.25}
]
},
"vconcat":[
{
"width":693,"height":192,
"data":{"name":"num"},
"transform":[{"fold":["a","s","g"],"as":["k","v"]}],
"mark":{"type":"line","strokeWidth":1.9,"point":{"filled":true,"size":18,"opacity":1}},
"encoding":{
"x":{"field":"t","type":"quantitative","scale":{"domain":[0,242],"nice":false,"zero":false},"axis":{"title":null,"values":[0,31,61,92,123,153,184,214],"labelExpr":"['05','06','07','08','09','10','11','12'][indexof([0,31,61,92,123,153,184,214],datum.value)]"}},
"y":{"field":"v","type":"quantitative","scale":{"domain":[0,8000],"nice":false,"zero":false},"axis":{"title":"Number","values":[0,2000,4000,6000,8000],"format":"d","titlePadding":13}},
"color":{"field":"k","type":"nominal","scale":{"domain":["g","s","a"],"range":["#0d8b0d","#000080","#ff0000"]},"legend":{"title":null,"orient":"none","legendX":707,"legendY":58,"labelExpr":"datum.label == 'g' ? 'nc4_globe' : datum.label == 's' ? 'nc4_south' : 'nc4_asr60km'"}}
}
},
{
"width":693,"height":192,
"encoding":{
"x":{"field":"t","type":"quantitative","scale":{"domain":[0,242],"nice":false,"zero":false},"axis":{"title":null,"values":[0,31,61,92,123,153,184,214],"labelExpr":"['05','06','07','08','09','10','11','12'][indexof([0,31,61,92,123,153,184,214],datum.value)]"}},
"y":{"field":"v","type":"quantitative","scale":{"domain":[-1.4,-1.05],"nice":false,"zero":false},"axis":{"title":"Mean (K)","values":[-1.4,-1.3,-1.2,-1.1],"labelExpr":"replace(format(datum.value,'.2f'),'\u2212','-')","titlePadding":15.7}}
},
"layer":[
{
"data":{"name":"mean"},
"transform":[{"fold":["a","s","g"],"as":["k","v"]}],
"mark":{"type":"line","strokeWidth":1.9,"point":{"filled":true,"size":18,"opacity":1}},
"encoding":{"color":{"field":"k","type":"nominal","scale":{"domain":["g","s","a"],"range":["#0d8b0d","#000080","#ff0000"]},"legend":{"title":null,"orient":"none","legendX":707,"legendY":57,"labelExpr":"datum.label == 'g' ? 'nc4_globe' : datum.label == 's' ? 'nc4_south' : 'nc4_asr60km'"}}}
},
{
"data":{"values":[{"t":4.2,"v":-1.1255,"txt":"BC statistical different over globe & sub-regions"}]},
"mark":{"type":"text","align":"left","baseline":"alphabetic","fontSize":31.8,"fontWeight":"bold","color":"#000000"},
"encoding":{"text":{"field":"txt"}}
}
]
},
{
"width":693,"height":193,
"encoding":{
"x":{"field":"t","type":"quantitative","scale":{"domain":[0,242],"nice":false,"zero":false},"axis":{"title":"2008050100\u00a0\u00a0-\u00a0\u00a02008122900\u00a0\u00a0\u00a0every 24 h","values":[0,31,61,92,123,153,184,214],"labelExpr":"['05','06','07','08','09','10','11','12'][indexof([0,31,61,92,123,153,184,214],datum.value)]"}},
"y":{"field":"v","type":"quantitative","scale":{"domain":[0,0.3],"nice":false,"zero":false},"axis":{"title":"Stdv (K)","values":[0,0.05,0.1,0.15,0.2,0.25,0.3],"format":".2f","titlePadding":19.5}}
},
"layer":[
{
"data":{"name":"std"},
"transform":[{"fold":["a","s","g"],"as":["k","v"]}],
"mark":{"type":"line","strokeWidth":1.9,"point":{"filled":true,"size":18,"opacity":1}},
"encoding":{"color":{"field":"k","type":"nominal","scale":{"domain":["g","s","a"],"range":["#0d8b0d","#000080","#ff0000"]},"legend":{"title":null,"orient":"none","legendX":707,"legendY":58,"labelExpr":"datum.label == 'g' ? 'nc4_globe' : datum.label == 's' ? 'nc4_south' : 'nc4_asr60km'"}}}
},
{
"data":{"values":[{"t":19.03,"v":0.195}]},
"mark":{"type":"point","shape":"circle","size":25600,"filled":false,"color":"#000000","strokeWidth":7,"opacity":1}
},
{
"data":{"values":[{"t":75.8,"v":0.117,"t2":47.8,"v2":0.143},{"t":55.6,"v":0.152,"t2":47.8,"v2":0.143},{"t":53.4,"v":0.121,"t2":47.8,"v2":0.143}]},
"mark":{"type":"rule","color":"#f5a35a","strokeWidth":4,"strokeCap":"round"},
"encoding":{"x2":{"field":"t2"},"y2":{"field":"v2"}}
},
{
"data":{"values":[{"t":76.3,"v":0.101,"txt":"spin-up"}]},
"mark":{"type":"text","align":"left","baseline":"alphabetic","fontSize":42,"fontWeight":"bold","color":"#000000"},
"encoding":{"text":{"field":"txt"}}
}
]
}
]
}
